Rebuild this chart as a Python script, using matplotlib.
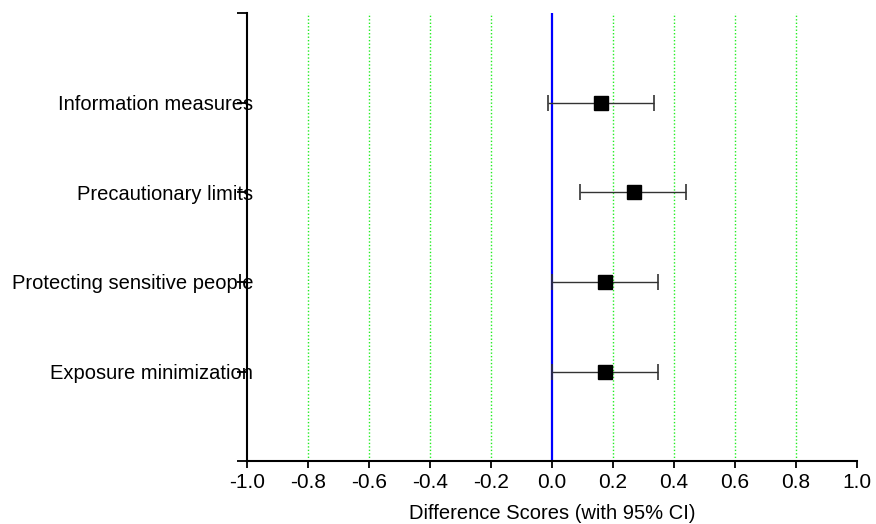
import matplotlib
matplotlib.use("Agg")
import matplotlib.pyplot as plt

plt.rcParams['font.family'] = ['Liberation Sans', 'DejaVu Sans']

categories = ["Exposure minimization", "Protecting sensitive people",
              "Precautionary limits", "Information measures"]
means = [0.175, 0.173, 0.269, 0.161]
lower = [0.002, -0.001, 0.093, -0.014]
upper = [0.348, 0.348, 0.441, 0.334]

xticks = [-1.0, -0.8, -0.6, -0.4, -0.2, 0.0, 0.2, 0.4, 0.6, 0.8, 1.0]
grid_x = [-0.8, -0.6, -0.4, -0.2, 0.2, 0.4, 0.6, 0.8]

fig = plt.figure(figsize=(8.76, 5.24), dpi=100)
ax = fig.add_axes([0.282, 0.120, 0.696, 0.855])

for gx in grid_x:
    ax.axvline(gx, color="#22ee22", linestyle=(0, (1, 1.5)), linewidth=1.0, zorder=1)
ax.axvline(0, color="blue", linewidth=1.6, zorder=2)

ypos = list(range(1, len(categories) + 1))
xerr = [[m - l for m, l in zip(means, lower)], [u - m for m, u in zip(means, upper)]]
ax.errorbar(means, ypos, xerr=xerr, fmt="s", color="black", markersize=10,
            ecolor="#333333", elinewidth=1.0, capsize=5.5, capthick=1.2, zorder=3)

ax.set_xlim(-1.0, 1.0)
ax.set_ylim(0, 5)
ax.set_xticks(xticks)
ax.set_xticklabels([f"{v:.1f}" for v in xticks], fontsize=15)
ax.set_yticks([0] + ypos + [5])
ax.set_yticklabels([""] + categories + [""], fontsize=14.5)
ax.tick_params(axis="y", length=7, width=1.3, pad=-11.5)
ax.tick_params(axis="x", length=5, width=1.3, pad=3.5)
for lbl in ax.get_yticklabels():
    lbl.set_zorder(5)

for s in ["top", "right"]:
    ax.spines[s].set_visible(False)
for s in ["left", "bottom"]:
    ax.spines[s].set_linewidth(1.5)

ax.set_xlabel("Difference Scores (with 95% CI)", fontsize=14.5, labelpad=8.5)

fig.savefig("out.png", dpi=100)
